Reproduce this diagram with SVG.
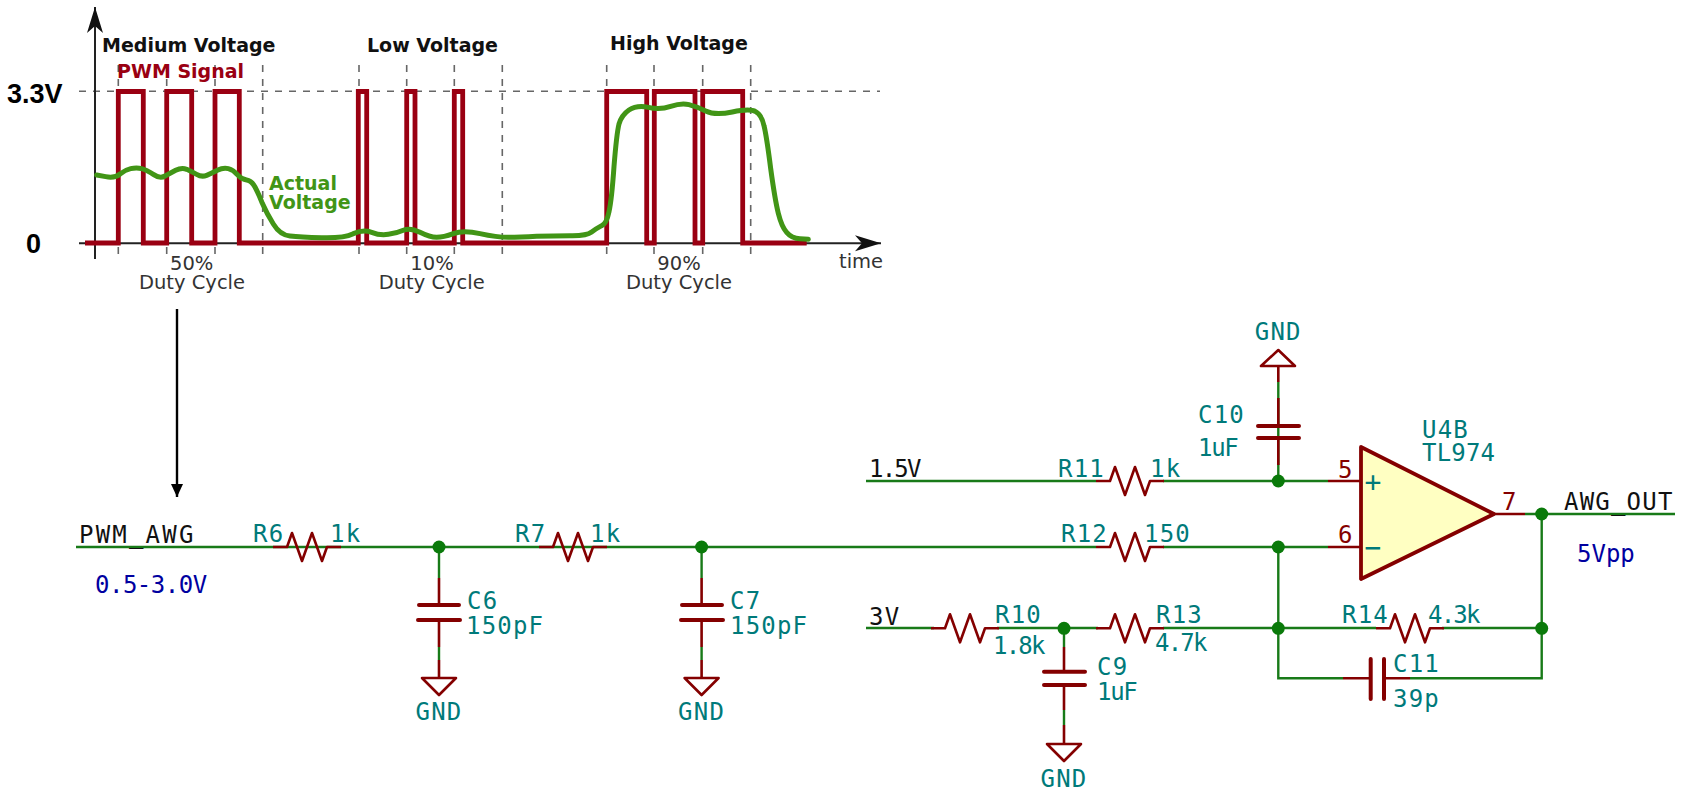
<svg xmlns="http://www.w3.org/2000/svg" width="1684" height="798" viewBox="0 0 1684 798">
<defs>
<style>
text{font-family:"DejaVu Sans Mono","Liberation Mono",monospace;font-size:24px;letter-spacing:1.2px}
.ref{fill:#007a7a}.net{fill:#111}.note{fill:#0000a0}.pin{fill:#840000}
.n4{letter-spacing:-1.8px}.n3{letter-spacing:-1.3px}
.c{font-family:"DejaVu Sans",sans-serif;font-size:19.5px;letter-spacing:0;fill:#333}
.b{font-family:"DejaVu Sans",sans-serif;font-weight:700;font-size:19px;letter-spacing:0;fill:#111}
.h{font-family:"Liberation Sans",sans-serif;font-weight:700;font-size:27px;letter-spacing:0;fill:#000}
.w{fill:none;stroke:#187a18;stroke-width:2.4}
.m{fill:none;stroke:#840000;stroke-width:2.6;stroke-linejoin:round}
.p{fill:none;stroke:#840000;stroke-width:4;stroke-linecap:round}
.dash{fill:none;stroke:#666;stroke-width:1.6;stroke-dasharray:7 7}
.j{fill:#0a7a0a}
.sym{font-size:28px;letter-spacing:0}
</style>
<marker id="ah" markerUnits="userSpaceOnUse" markerWidth="28" markerHeight="20" refX="26" refY="10" orient="auto"><path d="M0,2 L26,10 L0,18 L7,10Z" fill="#111"/></marker>
<marker id="as" markerUnits="userSpaceOnUse" markerWidth="14" markerHeight="14" refX="13" refY="7" orient="auto"><path d="M0,1 L13,7 L0,13Z" fill="#000"/></marker>
<path id="res" class="m" d="M-34,0 H-20 L-15,-14 L-5,14 L5,-14 L15,14 L20,0 H34"/>
<g id="gnd"><path class="m" d="M-17,0 H17 L0,17Z"/></g>
</defs>

<g id="chart">
<path class="dash" d="M79,91.3 H880"/>
<path class="dash" d="M118.3,65V259M166.7,65V259M215,65V259M262.7,65V259M359,65V259M406.7,65V259M454.3,65V259M502.3,65V259M606.7,65V259M654,65V259M702.7,65V259M750.7,65V259"/>
<path d="M95,259 V7" fill="none" stroke="#222" stroke-width="2" marker-end="url(#ah)"/>
<path d="M79,243.3 H881" fill="none" stroke="#222" stroke-width="2" marker-end="url(#ah)"/>
<path id="pwm" fill="none" stroke="#9a0012" stroke-width="4.8" d="M85,243 H118.3 V91.5 H143.3 V243 H166.7 V91.5 H191.7 V243 H215 V91.5 H239.3 V243 H358.3 V91.5 H366.7 V243 H406.7 V91.5 H415 V243 H454.3 V91.5 H462.7 V243 H606.7 V91.5 H646.7 V243 H654.3 V91.5 H695 V243 H702.7 V91.5 H742.7 V243 H806.7"/>
<path id="actual" transform="translate(0 20) scale(.33333)" fill="none" stroke="#419516" stroke-width="15" stroke-linecap="round" stroke-linejoin="round" d="M290,465 L317,470 Q345,475 360,462 Q375,450 392,446 Q410,442 425,446 Q440,450 460,463 Q480,477 495,468 Q510,460 527,451 Q545,442 560,448 Q575,455 590,463 Q605,472 620,466 Q635,460 652,451 Q670,442 685,446 Q700,450 712,464 Q725,478 740,480 Q755,482 765,501 Q775,520 787,550 Q800,580 820,612 Q840,645 870,648 Q900,652 965,653 Q1030,655 1060,641 Q1090,628 1115,637 Q1140,647 1165,643 Q1190,640 1210,631 Q1230,622 1260,637 Q1290,652 1310,652 Q1330,652 1360,641 Q1390,630 1440,641 Q1490,652 1525,652 Q1560,652 1610,649 Q1660,647 1710,647 Q1760,648 1775,636 Q1790,625 1805,617 Q1820,610 1827,575 Q1835,540 1842,440 Q1850,340 1857,312 Q1865,285 1887,270 Q1910,255 1945,262 Q1980,270 2012,259 Q2045,248 2067,254 Q2090,260 2117,273 Q2145,287 2197,276 Q2250,265 2267,275 Q2285,285 2292,317 Q2300,350 2312,445 Q2325,540 2335,580 Q2345,620 2360,637 Q2375,655 2400,656 L2425,658"/>
<text class="b" x="102" y="52">Medium Voltage</text>
<text class="b" x="367" y="52">Low Voltage</text>
<text class="b" x="610" y="50">High Voltage</text>
<text class="b" style="fill:#9a0012" x="117" y="78">PWM Signal</text>
<text class="b" style="fill:#419516" x="269" y="190">Actual</text>
<text class="b" style="fill:#419516" x="269" y="209">Voltage</text>
<text class="h" x="7" y="103">3.3V</text>
<text class="h" x="26" y="253">0</text>
<text class="c" x="191.7" y="270" text-anchor="middle">50%</text>
<text class="c" x="192" y="288.5" text-anchor="middle">Duty Cycle</text>
<text class="c" x="432" y="270" text-anchor="middle">10%</text>
<text class="c" x="431.7" y="288.5" text-anchor="middle">Duty Cycle</text>
<text class="c" x="679" y="270" text-anchor="middle">90%</text>
<text class="c" x="679" y="288.5" text-anchor="middle">Duty Cycle</text>
<text class="c" x="839" y="268">time</text>
</g>

<g id="connectors">
<path d="M177,309 V497" fill="none" stroke="#000" stroke-width="2.4" marker-end="url(#as)"/>
<path class="w" d="M76,547 H1096 M866,481 H1096 M866,628 H934 M997,628 H1098 M1163,481 H1328 M1163,547 H1328 M1163,628 H1376 M1442,628 H1541.7 M1278.3,398 V465 M1278.3,481 V465 M1278.3,382 V398 M1278.3,547 V678.3 H1343 M1410,678.3 H1541.7 V514 M1525,514 H1675 M439,547 V578 M439,647 V660 M701.6,547 V578 M701.6,647 V660 M1064,628 V647 M1064,710 V725"/>
<path class="m" d="M1328,481 H1361 M1328,547 H1361 M1494,514 H1525"/>
<g class="j"><circle cx="439" cy="547" r="6.5"/><circle cx="701.6" cy="547" r="6.5"/><circle cx="1064" cy="628.3" r="6.5"/><circle cx="1278.3" cy="481" r="6.5"/><circle cx="1278.3" cy="547" r="6.5"/><circle cx="1278.3" cy="628.3" r="6.5"/><circle cx="1541.7" cy="514" r="6.5"/><circle cx="1541.7" cy="628.3" r="6.5"/></g>
</g>

<g id="U4B"><path d="M1361,447 L1494,514 L1361,579Z" fill="#ffffc2" stroke="#840000" stroke-width="3.8" stroke-linejoin="round"/>
<text class="ref sym" x="1373" y="492" text-anchor="middle">+</text><text class="ref sym" x="1373" y="557" text-anchor="middle">−</text>
<text class="ref" x="1422" y="438">U4B</text><text class="ref" style="letter-spacing:.2px" x="1422" y="461">TL974</text>
<text class="pin" x="1338" y="478">5</text><text class="pin" x="1338" y="543">6</text><text class="pin" x="1502" y="510">7</text></g>

<g id="PWM_AWG"><text class="net" x="79" y="543" style="letter-spacing:2.2px">PWM_AWG</text><text class="note" style="letter-spacing:-.5px" x="95" y="593">0.5-3.0V</text></g>
<g id="V15"><text class="net n4" x="869" y="477">1.5V</text></g>
<g id="V3"><text class="net" x="869" y="625">3V</text></g>
<g id="AWG_OUT"><text class="net" x="1564" y="510">AWG_OUT</text><text class="note" style="letter-spacing:0" x="1577" y="562">5Vpp</text></g>

<g id="R6"><use href="#res" x="307" y="547"/><text class="ref" x="253" y="542">R6</text><text class="ref" x="330" y="542">1k</text></g>
<g id="R7"><use href="#res" x="573" y="547"/><text class="ref" x="515" y="542">R7</text><text class="ref" x="590" y="542">1k</text></g>
<g id="R10"><use href="#res" x="965" y="628.3"/><text class="ref" x="995" y="623">R10</text><text class="ref n4" x="993" y="654">1.8k</text></g>
<g id="R11"><use href="#res" x="1130" y="481"/><text class="ref" x="1058" y="477">R11</text><text class="ref" x="1150" y="477">1k</text></g>
<g id="R12"><use href="#res" x="1130" y="547"/><text class="ref" x="1061" y="542">R12</text><text class="ref" x="1144" y="542">150</text></g>
<g id="R13"><use href="#res" x="1130" y="628.3"/><text class="ref" x="1156" y="623">R13</text><text class="ref n4" x="1155" y="651">4.7k</text></g>
<g id="R14"><use href="#res" x="1410" y="628.3"/><text class="ref" x="1342" y="623">R14</text><text class="ref n4" x="1428" y="623">4.3k</text></g>

<g id="C6"><path class="m" d="M439,578 V605 M439,620 V647 M439,660 V678"/><path class="p" d="M419,605 H459 M418,620 H460"/><use href="#gnd" x="439" y="678"/><text class="ref" x="467" y="609">C6</text><text class="ref" x="466" y="634">150pF</text><text class="ref" x="439" y="720" text-anchor="middle">GND</text></g>
<g id="C7"><path class="m" d="M701.6,578 V605 M701.6,620 V647 M701.6,660 V678"/><path class="p" d="M682,605 H722 M681,620 H723"/><use href="#gnd" x="701.6" y="678"/><text class="ref" x="730" y="609">C7</text><text class="ref" x="730" y="634">150pF</text><text class="ref" x="701.6" y="720" text-anchor="middle">GND</text></g>
<g id="C9"><path class="m" d="M1064,647 V671.7 M1064,685 V710 M1064,725 V744"/><path class="p" d="M1044,671.7 H1085 M1044,685 H1085"/><use href="#gnd" x="1064" y="744"/><text class="ref" x="1097" y="675">C9</text><text class="ref n3" x="1097" y="700">1uF</text><text class="ref" x="1064" y="787" text-anchor="middle">GND</text></g>
<g id="C10"><path class="m" d="M1278.3,366 V382 M1278.3,398 V426 M1278.3,438 V465"/><path class="p" d="M1258,426 H1299 M1258,438 H1299"/><path class="m" d="M1261,366 H1295 L1278.3,350Z"/><text class="ref" x="1278.3" y="340" text-anchor="middle">GND</text><text class="ref" x="1198" y="423">C10</text><text class="ref n3" x="1198" y="456">1uF</text></g>
<g id="C11"><path class="m" d="M1343,678.3 H1370.7 M1384,678.3 H1410"/><path class="p" d="M1370.7,659 V699 M1384,659 V699"/><text class="ref" x="1393" y="672">C11</text><text class="ref" x="1393" y="707">39p</text></g>
</svg>
